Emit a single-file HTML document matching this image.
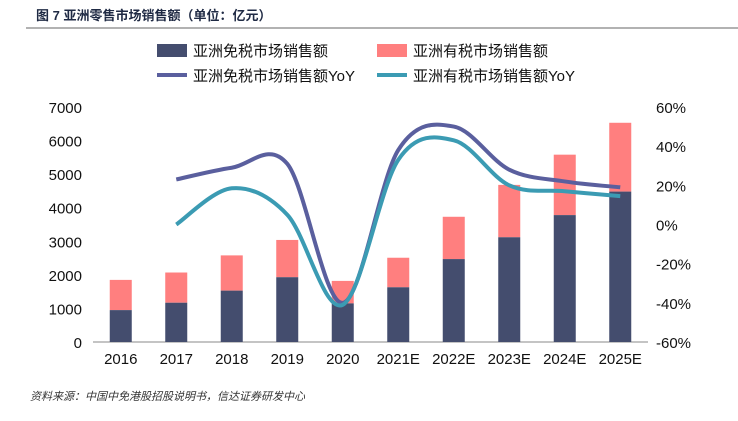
<!DOCTYPE html>
<html><head><meta charset="utf-8"><style>
body{margin:0;background:#fff;width:738px;height:416px;overflow:hidden;font-family:"Liberation Sans","Noto Sans CJK SC",sans-serif}
svg text{font-family:"Liberation Sans","Noto Sans CJK SC",sans-serif}
</style></head><body>
<svg id="c" width="738" height="416" xmlns="http://www.w3.org/2000/svg">
<text x="36" y="20" font-size="13" font-weight="bold" fill="#1f2a44">图 7  亚洲零售市场销售额（单位：亿元）</text>
<line x1="26" y1="28" x2="738" y2="28" stroke="#999" stroke-width="1.5"/>
<g>
<rect x="157" y="44" width="30" height="13" fill="#444d6e"/>
<text x="193" y="56" font-size="15" fill="#111">亚洲免税市场销售额</text>
<rect x="377" y="44" width="30" height="13" fill="#ff7f7f"/>
<text x="413" y="56" font-size="15" fill="#111">亚洲有税市场销售额</text>
<line x1="157" y1="75" x2="187" y2="75" stroke="#5a5f9e" stroke-width="4"/>
<text x="193" y="81" font-size="15" fill="#111">亚洲免税市场销售额YoY</text>
<line x1="377" y1="75" x2="407" y2="75" stroke="#3b9bb3" stroke-width="4"/>
<text x="413" y="81" font-size="15" fill="#111">亚洲有税市场销售额YoY</text>
</g>
<g id="plot"></g>
<text x="30" y="400" font-size="11" font-style="italic" fill="#333">资料来源：中国中免港股招股说明书，信达证券研发中心</text>
</svg>
<script>
const categories=["2016","2017","2018","2019","2020","2021E","2022E","2023E","2024E","2025E"];
const dutyFree=[950,1170,1530,1930,1150,1630,2470,3120,3780,4480];
const totals=[1850,2070,2580,3040,1820,2510,3730,4680,5580,6530];
const dutyFreeYoY=[null,23,29,31,-40,38,50,28,22,19];
const taxableYoY=[null,0,18.5,5,-41,33,43,20,17,14.5];
const leftTicks=[0,1000,2000,3000,4000,5000,6000,7000];
const rightTicks=[-60,-40,-20,0,20,40,60];
const NS="http://www.w3.org/2000/svg";
const plotG=document.getElementById('plot');
const X0=93,X1=648,YTOP=107,YBOT=342;
const bw=(X1-X0)/categories.length;
const xs=i=>X0+bw*(i+0.5);
const yL=v=>YBOT-(v/7000)*(YBOT-YTOP);
const yR=v=>YBOT-((v+60)/120)*(YBOT-YTOP);
function mk(t,a,txt){const e=document.createElementNS(NS,t);for(const k in a)e.setAttribute(k,a[k]);if(txt!=null)e.textContent=txt;plotG.appendChild(e);return e;}
const ax=mk('line',{x1:X0,x2:X1,y1:YBOT,y2:YBOT,stroke:'#888'});


leftTicks.forEach(v=>{const t=mk('text',{x:82,y:yL(v)+6,'font-size':15,'text-anchor':'end',fill:'#111'},String(v));

});
rightTicks.forEach(v=>{const t=mk('text',{x:656,y:yR(v)+6,'font-size':15,fill:'#111'},v+'%');

});
categories.forEach((c,i)=>{
const r1=mk('rect',{x:xs(i)-11,y:yL(totals[i]),width:22,height:yL(dutyFree[i])-yL(totals[i]),fill:'#ff7f7f'});


const r2=mk('rect',{x:xs(i)-11,y:yL(dutyFree[i]),width:22,height:YBOT-yL(dutyFree[i]),fill:'#444d6e'});


const t=mk('text',{x:xs(i),y:364,'font-size':15,'text-anchor':'middle',fill:'#111'},c);

});
function smooth(arr){const p=[];arr.forEach((v,i)=>{if(v!=null)p.push([xs(i),yR(v)]);});
let d='M'+p[0][0]+','+p[0][1];
for(let i=0;i<p.length-1;i++){const a=p[i-1]||p[i],b=p[i],c=p[i+1],n=p[i+2]||c;
d+=' C'+(b[0]+(c[0]-a[0])/6)+','+(b[1]+(c[1]-a[1])/6)+' '+(c[0]-(n[0]-b[0])/6)+','+(c[1]-(n[1]-b[1])/6)+' '+c[0]+','+c[1];}return d;}
const l1=mk('path',{d:smooth(dutyFreeYoY),fill:'none',stroke:'#5a5f9e','stroke-width':4});


const l2=mk('path',{d:smooth(taxableYoY),fill:'none',stroke:'#3b9bb3','stroke-width':4});


</script>
</body></html>
